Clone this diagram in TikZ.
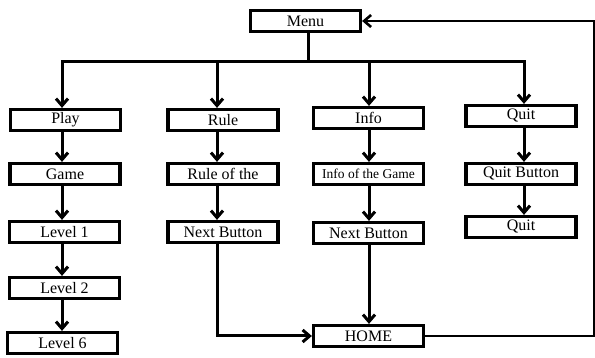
\documentclass[tikz,border=0pt]{standalone}
\usepackage{fontspec}
\setmainfont{Liberation Serif}
\usetikzlibrary{arrows.meta}
\begin{document}
\begin{tikzpicture}[x=1pt,y=-1pt,
  box/.style={draw,line width=3.2pt,minimum width=110pt,minimum height=21pt,inner sep=0pt,font=\fontsize{16}{18}\selectfont},
  conn/.style={line width=3pt,-{Straight Barb[length=7pt,width=12pt,line width=3pt]}},
  thinconn/.style={line width=2pt,-{Straight Barb[length=7pt,width=12pt,line width=2.6pt]}},
  plain/.style={line width=3pt}]
\useasboundingbox (0,0) rectangle (595,358);
\node[box] (menu) at (305.5,21) {Menu};
\node[box] (play) at (65.5,120) {Play};
\node[box] (game) at (65,174) {Game};
\node[box] (lv1) at (64.5,232) {Level 1};
\node[box] (lv2) at (64.5,288) {Level 2};
\node[box] (lv6) at (62.5,343) {Level 6};
\node[box] (rule) at (223,120) {Rule};
\node[box] (ruleof) at (223,174) {Rule of the};
\node[box] (next1) at (223,232) {Next Button};
\node[box] (info) at (368.5,118) {Info};
\node[box,font=\fontsize{13.5}{15}\selectfont] (infog) at (368.5,174) {Info of the Game};
\node[box] (next2) at (368.5,233) {Next Button};
\node[box] (home) at (368.5,336) {HOME};
\node[box] (quit) at (521,116) {Quit};
\node[box] (quitb) at (521,174) {Quit Button};
\node[box] (quit2) at (521,227) {Quit};
\coordinate (br) at (308,62);
\coordinate (bl) at (62,62);
\coordinate (bR) at (524,62);
\coordinate (c2) at (217,62);
\coordinate (c3) at (369,62);
\coordinate (rt) at (593.5,336);
\draw[plain] (menu.south -| br) -- (br);
\draw[plain,line cap=rect] (bl) -- (bR);
\draw[conn] (bl) -- (bl |- play.north);
\draw[conn] (c2) -- (c2 |- rule.north);
\draw[conn] (c3) -- (c3 |- info.north);
\draw[conn] (bR) -- (bR |- quit.north);
\draw[conn] (bl |- play.south) -- (bl |- game.north);
\draw[conn] (bl |- game.south) -- (bl |- lv1.north);
\draw[conn] (bl |- lv1.south) -- (bl |- lv2.north);
\draw[conn] (bl |- lv2.south) -- (bl |- lv6.north);
\draw[conn] (c2 |- rule.south) -- (c2 |- ruleof.north);
\draw[conn] (c2 |- ruleof.south) -- (c2 |- next1.north);
\draw[conn] (c3 |- info.south) -- (c3 |- infog.north);
\draw[conn] (c3 |- infog.south) -- (c3 |- next2.north);
\draw[conn] (c3 |- next2.south) -- (c3 |- home.north);
\draw[conn] (bR |- quit.south) -- (bR |- quitb.north);
\draw[conn] (bR |- quitb.south) -- (bR |- quit2.north);
\draw[conn] (c2 |- next1.south) -- (c2 |- home.west) -- (home.west);
\draw[thinconn] (home.east) -- (rt) -- (rt |- menu.east) -- (menu.east);
\end{tikzpicture}
\end{document}
